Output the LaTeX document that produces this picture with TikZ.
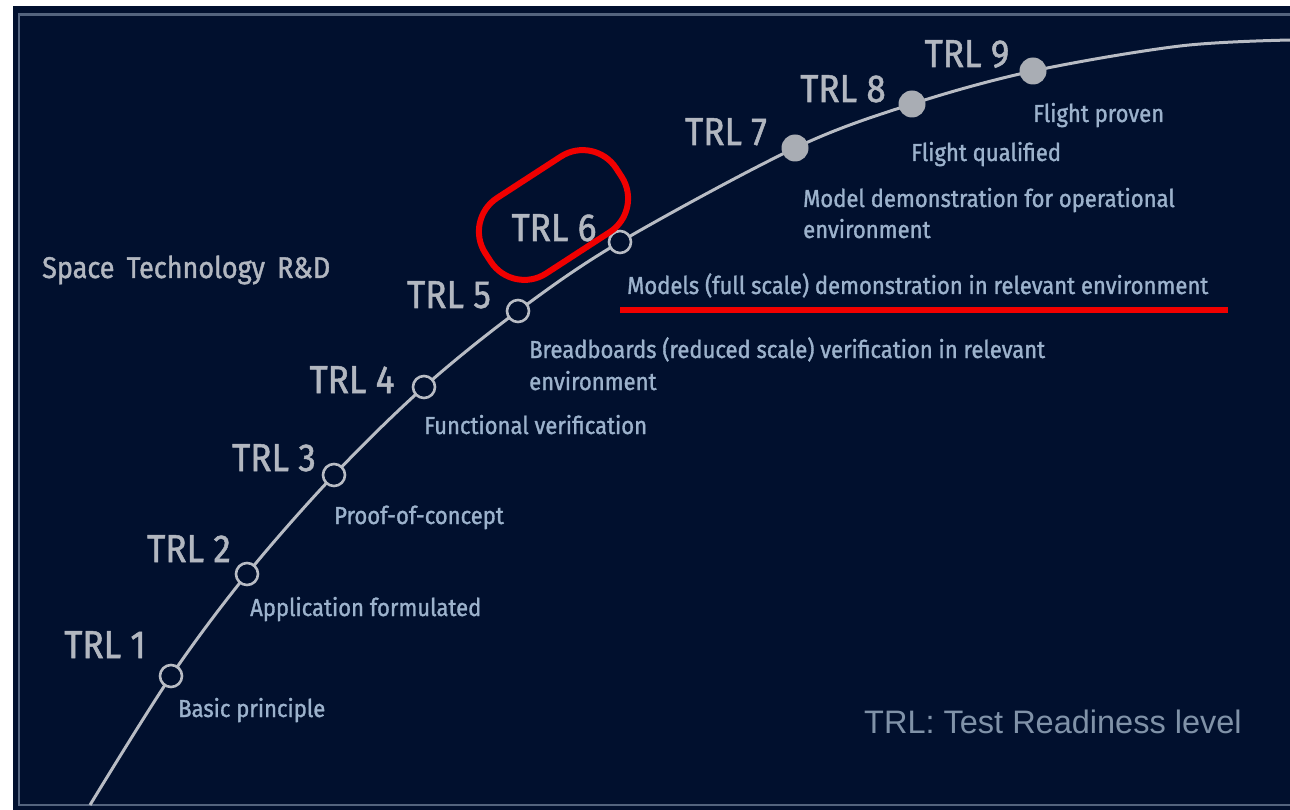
\documentclass[tikz,border=0pt]{standalone}
\usepackage{fontspec}
\setmainfont{Fira Sans}
\newfontfamily\condfont[FakeStretch=0.9, FakeBold=1.3]{Fira Sans}
\newfontfamily\notefont{Liberation Sans}
\definecolor{navy}{RGB}{1,16,46}
\definecolor{framec}{RGB}{84,100,126}
\definecolor{curvec}{RGB}{184,188,196}
\definecolor{lvlc}{RGB}{178,183,192}
\definecolor{descc}{RGB}{156,178,204}
\definecolor{notec}{RGB}{128,146,168}
\definecolor{markred}{RGB}{240,0,0}
\tikzset{
  curve/.style={draw=curvec, line width=3pt},
  openpt/.style={circle, draw=curvec, fill=navy, line width=2.6pt, inner sep=0pt, minimum size=22pt},
  fullpt/.style={circle, fill=curvec!92!black, inner sep=0pt, minimum size=27pt},
  lvl/.style={anchor=base, inner sep=0pt, text=lvlc, font=\condfont\fontsize{39}{42}\selectfont},
  desc/.style={anchor=base west, inner sep=0pt, text=descc, font=\condfont\fontsize{24.5}{30}\selectfont},
  redbox/.style={draw=markred, line width=6pt, rounded corners=40pt, minimum width=156pt, minimum height=90pt},
}
\begin{document}
\begin{tikzpicture}[x=1pt, y=-1pt]
\useasboundingbox (0,0) rectangle (1290,810);
% page and dark panel with its thin frame
\fill[white] (0,0) rectangle (1290,810);
\fill[navy] (13,6) rectangle (1290,810);
\draw[framec, line width=2.5pt] (1290,14.5) -- (19,14.5) -- (19,805) -- (1290,805);

% points of the readiness curve
\coordinate (start) at (90,805);
\coordinate (p1) at (171,676);
\coordinate (p2) at (247,574);
\coordinate (p3) at (334,475);
\coordinate (p4) at (424,387);
\coordinate (p5) at (518,311);
\coordinate (p6) at (620,242);
\coordinate (p7) at (795,148);
\coordinate (p8) at (912,104);
\coordinate (p9) at (1033,71);
\coordinate (mid) at (1180,46);
\coordinate (stop) at (1291,40);
\draw[curve] plot[smooth, tension=0.55] coordinates {(start) (p1) (p2) (p3) (p4) (p5) (p6) (p7) (p8) (p9) (mid) (stop)};

% level markers
\node[openpt] (m1) at (p1) {};
\node[openpt] (m2) at (p2) {};
\node[openpt] (m3) at (p3) {};
\node[openpt] (m4) at (p4) {};
\node[openpt] (m5) at (p5) {};
\node[openpt] (m6) at (p6) {};
\node[fullpt] (m7) at (p7) {};
\node[fullpt] (m8) at (p8) {};
\node[fullpt] (m9) at (p9) {};

% level names
\node[lvl] (l1) at (105,658) {TRL 1};
\node[lvl] (l2) at (189,562) {TRL 2};
\node[lvl] (l3) at (274,471) {TRL 3};
\node[lvl] (l4) at (352,393) {TRL 4};
\node[lvl] (l5) at (449,308) {TRL 5};
\node[lvl] (l6) at (554,241) {TRL 6};
\node[lvl] (l7) at (726,145) {TRL 7};
\node[lvl] (l8) at (843,102) {TRL 8};
\node[lvl] (l9) at (967,67) {TRL 9};

% level descriptions
\node[desc] (d1) at (178,717) {Basic principle};
\node[desc] (d2) at (250,616) {Application formulated};
\node[desc] (d3) at (334,524) {Proof-of-concept};
\node[desc] (d4) at (424,434) {Functional verification};
\node[desc] (d5a) at (529,358) {Breadboards (reduced scale) verification in relevant};
\node[desc] (d5b) at (529,390) {environment};
\node[desc] (d6) at (627,294) {Models (full scale) demonstration in relevant environment};
\node[desc] (d7a) at (803,207) {Model demonstration for operational};
\node[desc] (d7b) at (803,238) {environment};
\node[desc] (d8) at (911,161) {Flight qualified};
\node[desc] (d9) at (1033,122) {Flight proven};

% heading and note
\node[anchor=base west, inner sep=0pt, text=lvlc, font=\condfont\fontsize{30}{34}\selectfont] (title) at (42,278) {Space\, Technology\, R\&D};
\node[anchor=base west, inner sep=0pt, text=notec, font=\notefont\fontsize{32.5}{38}\selectfont] (note) at (864,733) {TRL: Test Readiness level};

% red emphasis on level 6
\node[redbox, rotate=33] (hl) at (553.5,215) {};
\coordinate (ulA) at (620,309.5);
\coordinate (ulB) at (1228,309.5);
\draw[markred, line width=6pt] (ulA) -- (ulB);
\end{tikzpicture}
\end{document}
